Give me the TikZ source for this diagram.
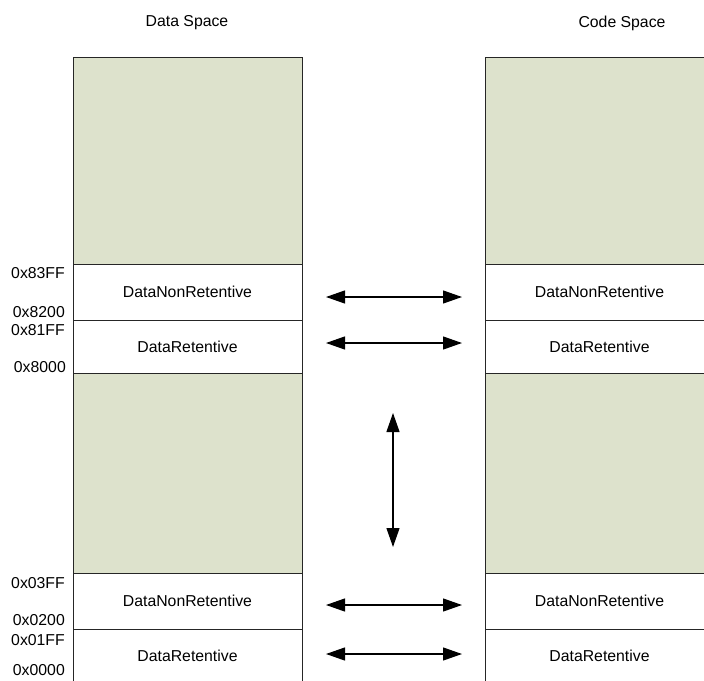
\documentclass[tikz,border=0pt]{standalone}
\usepackage{fontspec}
\setmainfont{Liberation Sans}
\usetikzlibrary{arrows.meta,positioning}
\definecolor{memgreen}{RGB}{221,226,204}
\tikzset{
    memblock/.style={draw=black!85,minimum width=229pt,inner sep=0pt,outer sep=0pt,line width=0.8pt},
    memfree/.style={memblock,fill=memgreen},
    memused/.style={memblock,fill=white,font=\fontsize{15.8}{18}\selectfont},
    addr/.style={anchor=east,inner sep=0pt,font=\fontsize{15.8}{18}\selectfont},
    spacetitle/.style={inner sep=0pt,font=\fontsize{15.8}{18}\selectfont},
    maplink/.style={{Triangle[length=19pt,width=13pt]}-{Triangle[length=19pt,width=13pt]},line width=1.2pt},
}

\begin{document}
\begin{tikzpicture}[x=1pt,y=-1pt]
\useasboundingbox (0,0) rectangle (704,680);
\clip (0,0) rectangle (704,680);

\node[spacetitle] (datatitle) at (187,23) {Data Space};
\node[spacetitle] (codetitle) at (622,23) {Code Space};

% the two memory columns
\foreach \c/\cx in {L/187.5,R/599.5}
  {
    \node[memfree,minimum height=207pt,anchor=north] (freehi\c) at (\cx,57) {};
    \node[memused,minimum height=56pt,below=0pt of freehi\c] (nonrethi\c) {DataNonRetentive};
    \node[memused,minimum height=53pt,below=0pt of nonrethi\c] (rethi\c) {DataRetentive};
    \node[memfree,minimum height=200pt,below=0pt of rethi\c] (freelo\c) {};
    \node[memused,minimum height=56pt,below=0pt of freelo\c] (nonretlo\c) {DataNonRetentive};
    \node[memused,minimum height=53pt,below=0pt of nonretlo\c] (retlo\c) {DataRetentive};
  }

% addresses
\foreach \txt/\y in {0x83FF/273,0x8200/312,0x81FF/330,0x03FF/583,0x0200/620,0x01FF/640,0x0000/670}
  {
    \node[addr] (a\txt) at (65,\y) {\txt};
  }
\node[addr] (a0x8000) at (66,367) {0x8000};

% mapping arrows
\coordinate (nrhiw) at (326,297);
\coordinate (nrhie) at (462,297);
\coordinate (rhiw) at (326,343);
\coordinate (rhie) at (462,343);
\coordinate (nrlow) at (326,605);
\coordinate (nrloe) at (462,605);
\coordinate (rlow) at (326,654);
\coordinate (rloe) at (462,654);
\coordinate (gapn) at (393,413);
\coordinate (gaps) at (393,547);

\draw[maplink] (nrhiw) -- (nrhie);
\draw[maplink] (rhiw) -- (rhie);
\draw[maplink] (nrlow) -- (nrloe);
\draw[maplink] (rlow) -- (rloe);
\draw[maplink] (gapn) -- (gaps);

\end{tikzpicture}
\end{document}
